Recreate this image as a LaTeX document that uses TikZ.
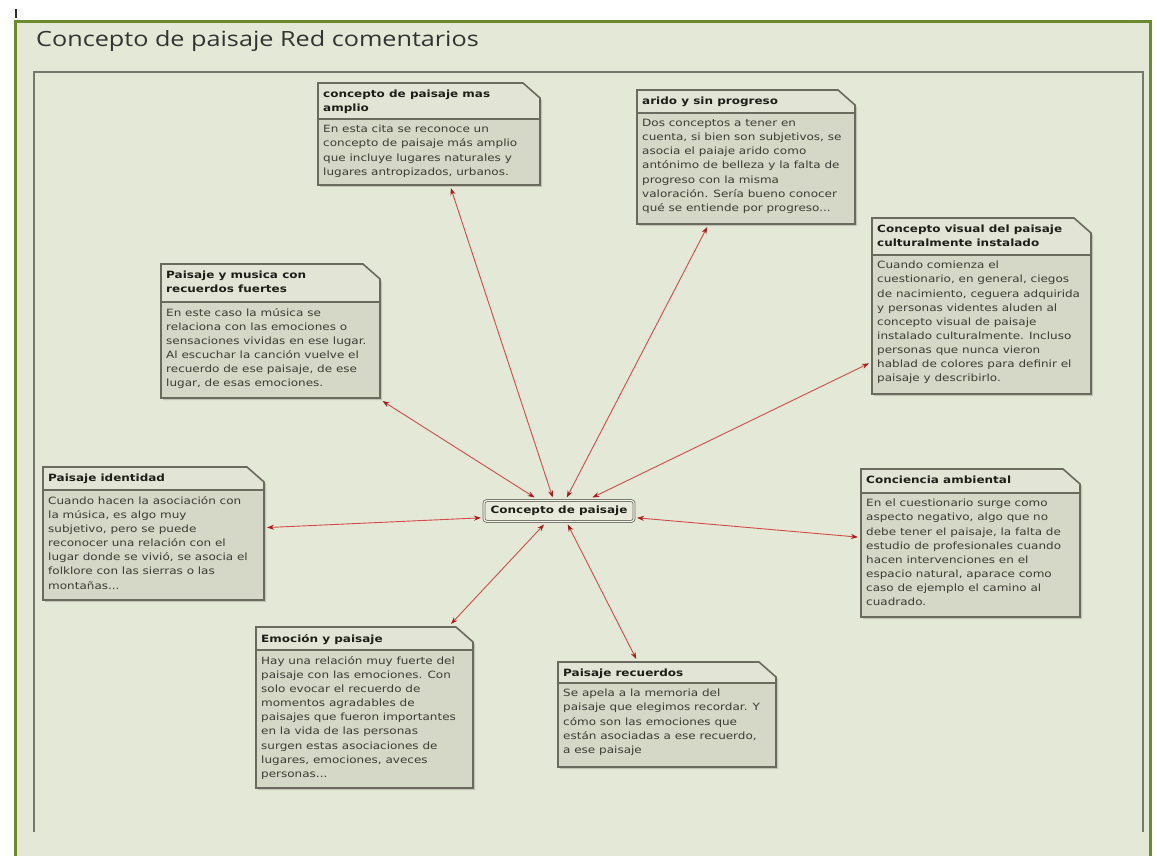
\documentclass[tikz,border=0pt]{standalone}
\usepackage{fontspec}
\setmainfont{DejaVu Sans}[FakeStretch=1.2]
\newfontfamily\headfont{Open Sans}[FakeStretch=1.2]
\usetikzlibrary{arrows.meta}
\definecolor{bgc}{HTML}{E4E8D6}
\definecolor{frameg}{HTML}{6B8A2E}
\definecolor{innerg}{HTML}{77776E}
\definecolor{headc}{HTML}{E2E4D6}
\definecolor{bodyc}{HTML}{D5D7C7}
\definecolor{nline}{HTML}{6A6A5E}
\definecolor{linkc}{HTML}{D24A4A}
\definecolor{tipc}{HTML}{A81C1C}
\definecolor{txtc}{HTML}{3C3C34}
\definecolor{ttlc}{HTML}{1E1E18}
\tikzset{
  notetitle/.style={inner sep=0pt, align=left, text=ttlc, font=\bfseries\fontsize{10}{14}\selectfont},
  notetext/.style={inner sep=0pt, align=left, text=txtc, font=\fontsize{10}{14.15}\selectfont},
  notefit/.style={draw=none, rectangle, inner sep=0pt, outer sep=3pt},
  noteline/.style={draw=nline, line width=1.6pt, line join=miter},
  centerbox/.style={draw=nline, line width=0.8pt, double=white!55!bgc, double distance=1.2pt,
    fill=bgc!85!white, rounded corners=3pt, minimum width=150pt, minimum height=21pt,
    inner sep=0pt, outer sep=3pt, text=ttlc, font=\bfseries\fontsize{10}{12}\selectfont},
  link/.style={linkc, line width=0.9pt,
    {Stealth[length=7pt,width=5pt,color=tipc]}-{Stealth[length=7pt,width=5pt,color=tipc]}}
}
% #1 name, #2 x1, #3 y1, #4 x2, #5 y2, #6 separator y, #7 title, #8 body
\newcommand\notebox[8]{%
  \fill[black, opacity=0.15] (#2+2,#3+2) -- (#4-15,#3+2) -- (#4+2,#3+17) -- (#4+2,#5+2) -- (#2+2,#5+2) -- cycle;
  \fill[bodyc] (#2,#6) rectangle (#4,#5);
  \fill[headc] (#2,#3) -- (#4-17,#3) -- (#4,#3+15) -- (#4,#6) -- (#2,#6) -- cycle;
  \draw[noteline] (#2,#3) -- (#4-17,#3) -- (#4,#3+15) -- (#4,#5) -- (#2,#5) -- cycle;
  \draw[noteline] (#2,#6) -- (#4,#6);
  \node[notetitle, anchor=north west] (#1-t) at (#2+5,#3+7) {#7};
  \node[notetext, anchor=north west] (#1-b) at (#2+5,#6+6) {#8};
  \node[notefit, minimum width=#4-#2, minimum height=#5-#3] (#1) at ({(#2+#4)/2},{(#3+#5)/2}) {};
}
\begin{document}
\begin{tikzpicture}[x=1pt,y=-1pt]
\useasboundingbox (0,0) rectangle (1157,856);
\fill[white] (0,0) rectangle (1157,856);
\fill[bgc] (15,22) rectangle (1150,856);
\draw[frameg, line width=3pt] (15,856) -- (15,22) -- (1150,22) -- (1150,856);
\draw[black!80, line width=1.5pt] (16,9) -- (16,18);
\draw[innerg, line width=1.5pt] (34,832) -- (34,72) -- (1143,72) -- (1143,832);
\node[anchor=base west, inner sep=0pt, text=black!80, font=\headfont\fontsize{21}{25}\selectfont] (title) at (36,47) {Concepto de paisaje Red comentarios};

\notebox{A}{318}{83}{540}{185}{119}{concepto de paisaje mas\\amplio}{En esta cita se reconoce un\\concepto de paisaje más amplio\\que incluye lugares naturales y\\lugares antropizados, urbanos.}
\notebox{B}{637}{90}{855}{224}{113}{arido y sin progreso}{Dos conceptos a tener en\\cuenta, si bien son subjetivos, se\\asocia el paiaje arido como\\antónimo de belleza y la falta de\\progreso con la misma\\valoración. Sería bueno conocer\\qué se entiende por progreso...}
\notebox{V}{872}{218}{1091}{394}{255}{Concepto visual del paisaje\\culturalmente instalado}{Cuando comienza el\\cuestionario, en general, ciegos\\de nacimiento, ceguera adquirida\\y personas videntes aluden al\\concepto visual de paisaje\\instalado culturalmente. Incluso\\personas que nunca vieron\\hablad de colores para definir el\\paisaje y describirlo.}
\notebox{M}{161}{264}{380}{398}{302}{Paisaje y musica con\\recuerdos fuertes}{En este caso la música se\\relaciona con las emociones o\\sensaciones vividas en ese lugar.\\Al escuchar la canción vuelve el\\recuerdo de ese paisaje, de ese\\lugar, de esas emociones.}
\notebox{I}{43}{467}{264}{600}{490}{Paisaje identidad}{Cuando hacen la asociación con\\la música, es algo muy\\subjetivo, pero se puede\\reconocer una relación con el\\lugar donde se vivió, se asocia el\\folklore con las sierras o las\\montañas...}
\notebox{K}{861}{469}{1080}{617}{493}{Conciencia ambiental}{En el cuestionario surge como\\aspecto negativo, algo que no\\debe tener el paisaje, la falta de\\estudio de profesionales cuando\\hacen intervenciones en el\\espacio natural, aparace como\\caso de ejemplo el camino al\\cuadrado.}
\notebox{E}{256}{627}{473}{788}{650}{Emoción y paisaje}{Hay una relación muy fuerte del\\paisaje con las emociones. Con\\solo evocar el recuerdo de\\momentos agradables de\\paisajes que fueron importantes\\en la vida de las personas\\surgen estas asociaciones de\\lugares, emociones, aveces\\personas...}
\notebox{R}{558}{662}{776}{767}{683}{Paisaje recuerdos}{Se apela a la memoria del\\paisaje que elegimos recordar. Y\\cómo son las emociones que\\están asociadas a ese recuerdo,\\a ese paisaje}

\node[centerbox] (C) at (559,511) {Concepto de paisaje};

\draw[link] (A.-68) -- (C.115);
\draw[link] (B.241) -- (C.60);
\draw[link] (V.207) -- (C.22);
\draw[link] (M.-32) -- (C.151);
\draw[link] (I.3) -- (C.185);
\draw[link] (K.177) -- (C.-5);
\draw[link] (E.44) -- (C.222);
\draw[link] (R.119) -- (C.-57);
\end{tikzpicture}
\end{document}
